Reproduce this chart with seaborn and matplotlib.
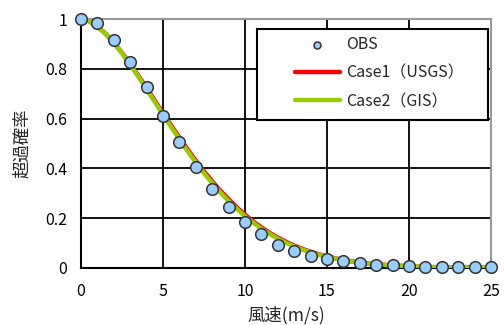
import matplotlib
matplotlib.use("Agg")
import matplotlib.pyplot as plt
from matplotlib.patches import Rectangle
import seaborn as sns
import pandas as pd

# OBS data
obs_x = list(range(0, 26))
obs_y = [1.0, 0.983, 0.914, 0.828, 0.726, 0.61, 0.508, 0.407, 0.317, 0.243,
         0.183, 0.135, 0.094, 0.067, 0.048, 0.036, 0.027, 0.020, 0.014, 0.014,
         0.007, 0.006, 0.006, 0.006, 0.006, 0.006]

# Fitted curves
curve_x = [0, 0.5, 1, 1.5, 2, 2.5, 3, 3.5, 4, 4.5, 5, 5.5, 6, 6.5, 7, 7.5, 8, 8.5,
           9, 9.5, 10, 10.5, 11, 11.5, 12, 12.5, 13, 13.5, 14, 14.5, 15, 16, 17,
           18, 19, 20, 21, 22, 23, 24, 25]
case1_y = [1.0, 0.991, 0.970, 0.941, 0.905, 0.864, 0.819, 0.772, 0.723, 0.672,
           0.622, 0.572, 0.524, 0.476, 0.431, 0.388, 0.348, 0.310, 0.276, 0.243,
           0.214, 0.187, 0.163, 0.141, 0.122, 0.105, 0.090, 0.077, 0.065, 0.055,
           0.046, 0.032, 0.022, 0.015, 0.010, 0.007, 0.004, 0.003, 0.002, 0.001,
           0.001]
case2_y = [1.0, 0.991, 0.970, 0.940, 0.904, 0.862, 0.816, 0.768, 0.718, 0.667,
           0.616, 0.566, 0.517, 0.469, 0.424, 0.381, 0.341, 0.303, 0.269, 0.237,
           0.208, 0.182, 0.158, 0.137, 0.118, 0.101, 0.087, 0.074, 0.063, 0.053,
           0.045, 0.031, 0.021, 0.015, 0.010, 0.007, 0.004, 0.003, 0.002, 0.001,
           0.001]

x_ticks = [0, 5, 10, 15, 20, 25]
y_ticks = [0, 0.2, 0.4, 0.6, 0.8, 1.0]
y_tick_labels = ["0", "0.2", "0.4", "0.6", "0.8", "1"]

sns.set_theme(style="white")
plt.rcParams['font.family'] = ['Noto Sans CJK JP', 'DejaVu Sans']

df_obs = pd.DataFrame({"x": obs_x, "y": obs_y})
df_c = pd.DataFrame({
    "x": curve_x * 2,
    "y": case1_y + case2_y,
    "series": ["Case1（USGS）"] * len(curve_x) + ["Case2（GIS）"] * len(curve_x),
})

W, H = 504, 325
fig = plt.figure(figsize=(5.04, 3.25), dpi=100)
ax = fig.add_axes([0.1607, 0.1754, 0.8135, 0.7661])

sns.lineplot(data=df_c[df_c.series == "Case1（USGS）"], x="x", y="y", color="#ff0000",
             lw=3.2, ax=ax, label="Case1（USGS）", zorder=3)
sns.lineplot(data=df_c[df_c.series == "Case2（GIS）"], x="x", y="y", color="#99cc00",
             lw=3.2, ax=ax, label="Case2（GIS）", zorder=4)
sns.scatterplot(data=df_obs, x="x", y="y", ax=ax, s=70, color="#99ccff",
                edgecolor="#333333", linewidth=1.1, zorder=5, clip_on=False,
                label="OBS")

ax.set_xlim(0, 25)
ax.set_ylim(0, 1)
ax.set_xticks(x_ticks)
ax.set_yticks(y_ticks)
ax.set_yticklabels(y_tick_labels)
ax.tick_params(length=0, labelsize=11.5, colors="black")
ax.tick_params(axis="y", pad=10)
ax.tick_params(axis="x", pad=11)
ax.grid(True, color="black", lw=1.3)
ax.set_axisbelow(True)
for s in ["left", "bottom"]:
    ax.spines[s].set_color("black")
    ax.spines[s].set_linewidth(1.5)
for s in ["top", "right"]:
    ax.spines[s].set_color("#999999")
    ax.spines[s].set_linewidth(1.5)
    ax.spines[s].set_visible(True)

ax.set_xlabel("風速(m/s)", fontsize=12.5, labelpad=4)
ax.set_ylabel("超過確率", fontsize=12.5, labelpad=10)

# legend frame drawn as a rectangle (figure pixels 257..488 x 29..120)
frame = Rectangle((257 / W, 1 - 120 / H), (488 - 257) / W, (120 - 29) / H,
                  transform=fig.transFigure, facecolor="white", edgecolor="black",
                  lw=1.5, zorder=10)
fig.add_artist(frame)

handles, labels = ax.get_legend_handles_labels()
order = [labels.index("OBS"), labels.index("Case1（USGS）"), labels.index("Case2（GIS）")]
leg = ax.legend([handles[i] for i in order], [labels[i] for i in order],
                loc="upper left", bbox_to_anchor=(295 / W, 1 - 36 / H),
                bbox_transform=fig.transFigure,
                frameon=False, fontsize=11.5,
                handlelength=2.8, handletextpad=0.4, labelspacing=0.72,
                borderpad=0, borderaxespad=0, markerscale=0.6)
leg.set_zorder(11)
leg.remove()
fig.add_artist(leg)

fig.savefig("out.png", dpi=100)
